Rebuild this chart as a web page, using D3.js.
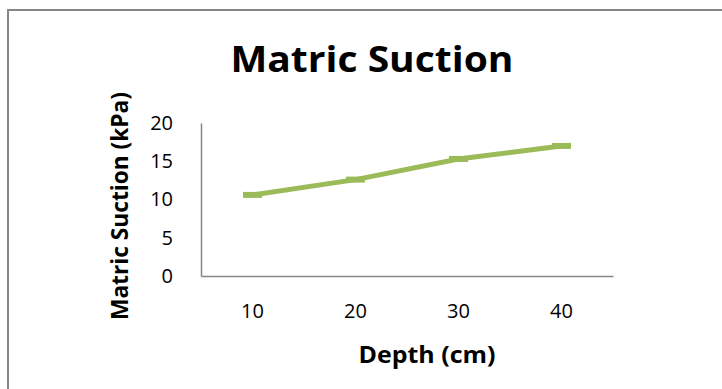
<!DOCTYPE html>
<html>
<head>
<meta charset="utf-8">
<script src="https://cdn.jsdelivr.net/npm/d3@7"></script>
<style>
  html, body { margin: 0; padding: 0; background: #fff; }
  svg { display: block; }
</style>
</head>
<body>
<svg id="chart" width="722" height="389"></svg>
<script>
// Matric suction measured at each depth
const depths = ["10", "20", "30", "40"];
const suction = [10.6, 12.6, 15.3, 17.0];
const yTicks = [0, 5, 10, 15, 20];

const svg = d3.select("#chart");
const font = "'Open Sans', 'Liberation Sans', sans-serif";

// chart frame
svg.append("rect")
  .attr("x", 8).attr("y", 10)
  .attr("width", 730).attr("height", 400)
  .attr("fill", "#fff")
  .attr("stroke", "#868686").attr("stroke-width", 2);

const plot = { left: 201, right: 613, top: 123, bottom: 276 };

const x = d3.scaleBand().domain(depths).range([plot.left, plot.right]);
const y = d3.scaleLinear().domain([0, 20]).range([plot.bottom, plot.top]);

// y axis
const yAxis = svg.append("g")
  .attr("transform", `translate(${plot.left},0)`)
  .call(d3.axisLeft(y).tickValues(yTicks).tickSize(0).tickPadding(28));
yAxis.select(".domain").attr("stroke", "#868686").attr("stroke-width", 1.5);
yAxis.selectAll("text")
  .attr("font-family", font).attr("font-size", 20).attr("fill", "#000");

// x axis
const xAxis = svg.append("g")
  .attr("transform", `translate(0,${plot.bottom})`)
  .call(d3.axisBottom(x).tickSize(0).tickPadding(28));
xAxis.select(".domain").attr("stroke", "#868686").attr("stroke-width", 1.5);
xAxis.selectAll("text")
  .attr("font-family", font).attr("font-size", 20).attr("fill", "#000");

// series line
const pts = depths.map((d, i) => [x(d) + x.bandwidth() / 2, y(suction[i])]);
svg.append("path")
  .attr("d", d3.line()(pts))
  .attr("fill", "none")
  .attr("stroke", "#9BBB59")
  .attr("stroke-width", 5)
  .attr("stroke-linejoin", "round");

// dash markers
svg.selectAll("rect.marker")
  .data(pts)
  .enter().append("rect")
  .attr("class", "marker")
  .attr("x", d => d[0] - 9.5)
  .attr("y", d => d[1] - 3)
  .attr("width", 19)
  .attr("height", 6)
  .attr("fill", "#9BBB59");

// titles
svg.append("text")
  .attr("x", 372).attr("y", 72)
  .attr("text-anchor", "middle")
  .attr("font-family", font).attr("font-weight", "bold").attr("font-size", 35)
  .attr("textLength", 283).attr("lengthAdjust", "spacingAndGlyphs")
  .attr("fill", "#000")
  .text("Matric Suction");

svg.append("text")
  .attr("transform", "translate(128,206) rotate(-90)")
  .attr("text-anchor", "middle")
  .attr("font-family", font).attr("font-weight", "bold").attr("font-size", 23)
  .attr("textLength", 228).attr("lengthAdjust", "spacingAndGlyphs")
  .attr("fill", "#000")
  .text("Matric Suction (kPa)");

svg.append("text")
  .attr("x", 427).attr("y", 363)
  .attr("text-anchor", "middle")
  .attr("font-family", font).attr("font-weight", "bold").attr("font-size", 23)
  .attr("textLength", 137).attr("lengthAdjust", "spacingAndGlyphs")
  .attr("fill", "#000")
  .text("Depth (cm)");
</script>
</body>
</html>
